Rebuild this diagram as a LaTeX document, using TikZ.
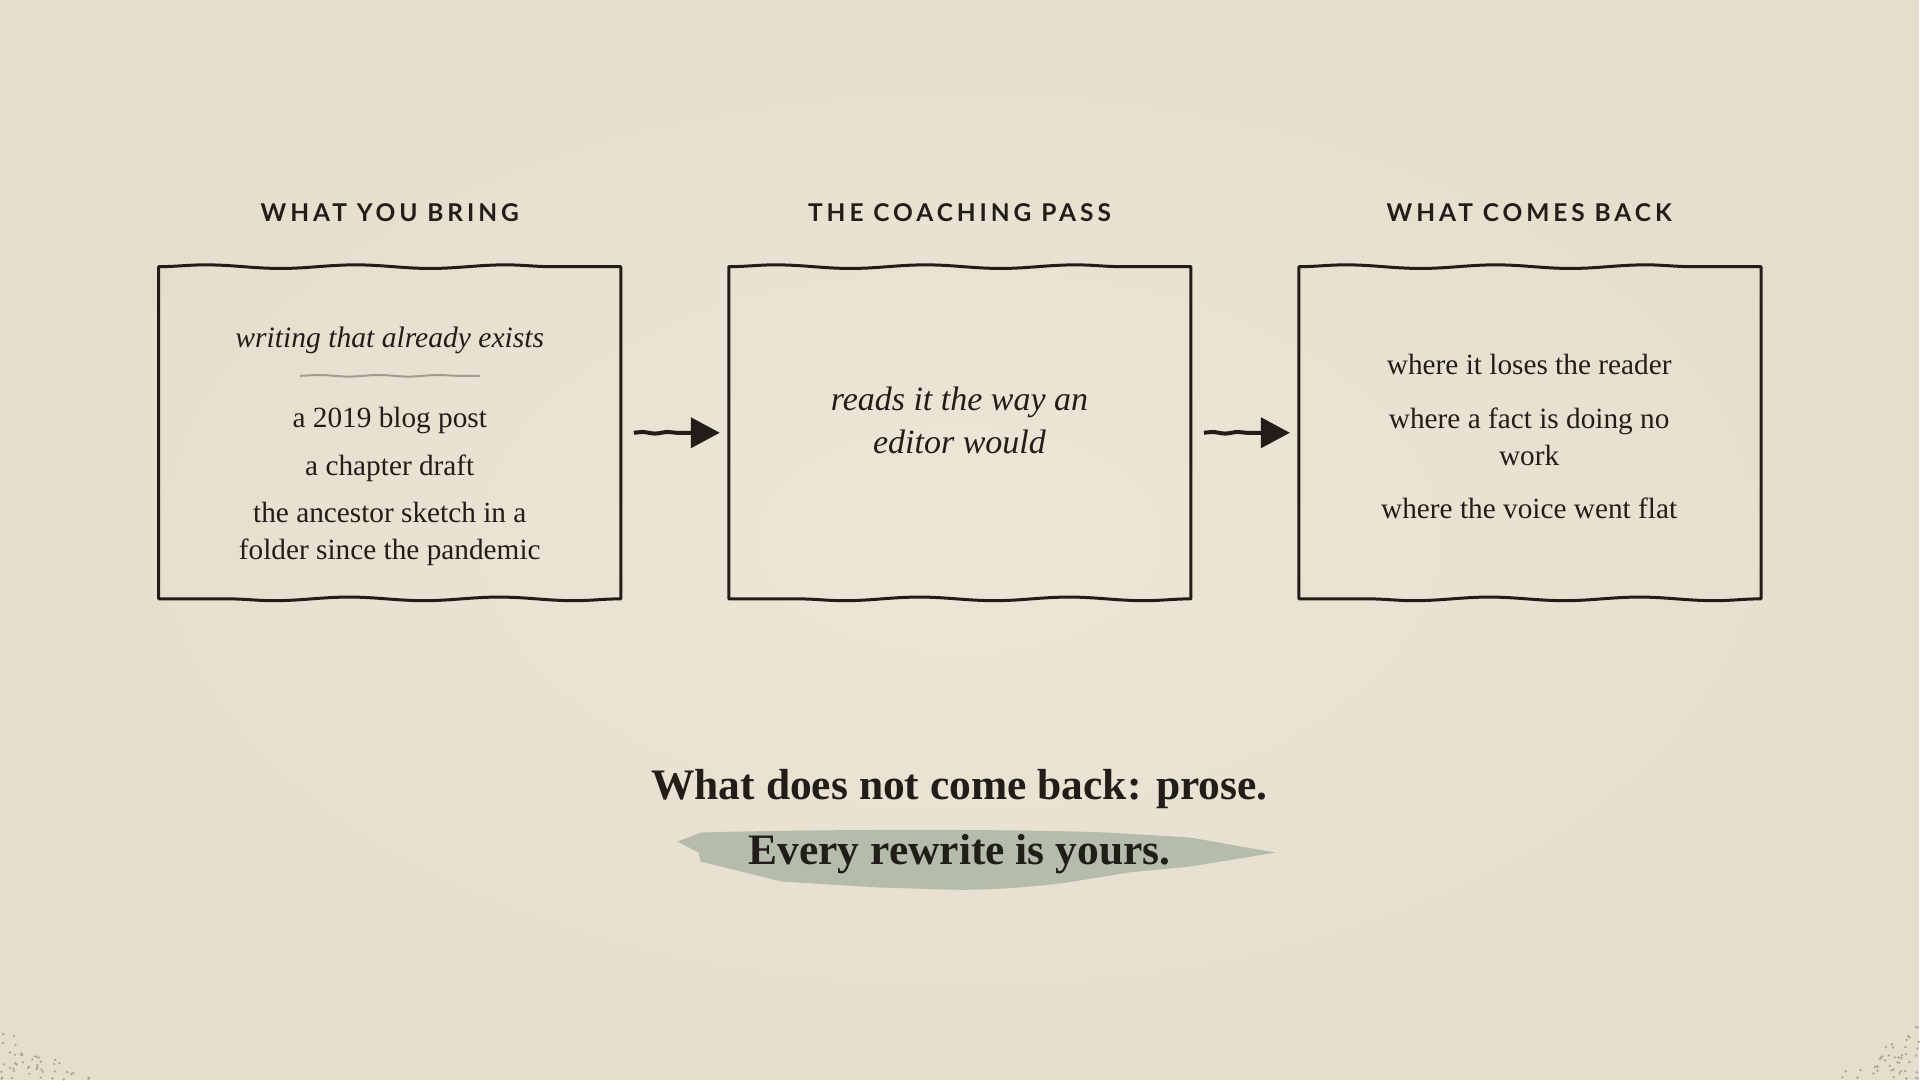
\documentclass[tikz,border=0pt]{standalone}
\usepackage{fontspec}
\setmainfont{Liberation Serif}
\newfontfamily\headfont[LetterSpace=16]{Lato}
\usetikzlibrary{arrows.meta, positioning, calc, decorations.pathmorphing}

\definecolor{ink}{RGB}{33,29,25}
\definecolor{paperin}{RGB}{237,229,214}
\definecolor{paperout}{RGB}{230,222,205}
\definecolor{sage}{RGB}{181,188,172}
\definecolor{rulegray}{RGB}{160,156,146}
\definecolor{speck}{RGB}{165,166,150}

\begin{document}
\begin{tikzpicture}[
  x=1pt, y=-1pt,
  card/.style={minimum width=462pt, minimum height=332pt, inner sep=0pt},
  edge/.style={draw=ink, line width=3pt, line join=round},
  wavy/.style={decoration={snake, amplitude=1.8pt, segment length=150pt}},
  head/.style={font=\headfont\bfseries\fontsize{24.5}{30}\selectfont, text=ink, anchor=base},
  body/.style={font=\fontsize{29.3}{37}\selectfont, text=ink, anchor=base},
  lead/.style={font=\itshape\fontsize{34}{43}\selectfont, text=ink, anchor=base},
  motto/.style={font=\bfseries\fontsize{43.5}{52}\selectfont, text=ink, anchor=base},
  arrow/.style={draw=ink, line width=4pt, -{Triangle[length=29pt, width=30pt]},
    decorate, decoration={snake, amplitude=0.8pt, segment length=26pt, post length=36pt}}
]

% Paper
\shade[inner color=paperin, outer color=paperout] (0,0) rectangle (1920,1080);
\pgfmathsetseed{42}
\foreach \i in {1,...,45}{
  \pgfmathsetmacro\su{rnd}
  \pgfmathsetmacro\sv{rnd}
  \pgfmathsetmacro\px{ifthenelse(\su+\sv>1,1-\su,\su)}
  \pgfmathsetmacro\py{ifthenelse(\su+\sv>1,1-\sv,\sv)}
  \fill[speck] (\px*95, 1080-\py*52) circle (1.3pt);
  \fill[speck] (1920-\py*88, 1080-\px*56) circle (1.3pt);
}

% Cards
\node[card] (bring) at (390,433) {};
\node[card, right=108pt of bring] (pass) {};
\node[card, right=108pt of pass] (back) {};

\foreach \b in {bring, pass, back}
  \draw[edge] (\b.north west) decorate[wavy]{-- (\b.north east)} -- (\b.south east)
    decorate[wavy]{-- (\b.south west)} -- cycle;

% Headings
\node[head] (hbring) at (390,222) {WHAT YOU BRING};
\node[head] (hpass) at (960,222) {THE COACHING PASS};
\node[head] (hback) at (1530,222) {WHAT COMES BACK};

% What you bring
\node[body, font=\itshape\fontsize{29.6}{37}\selectfont] (exists) at (390,348) {writing that already exists};
\draw[rulegray, line width=2pt] (300,376) decorate[decoration={snake, amplitude=0.8pt, segment length=60pt}]{-- (480,376)};
\node[body] (blog) at (390,428) {a 2019 blog post};
\node[body] (draft) at (390,476) {a chapter draft};
\node[body] (sketch) at (390,523) {the ancestor sketch in a};
\node[body] (folder) at (390,560) {folder since the pandemic};

% The coaching pass
\node[lead] (reads) at (960,411) {reads it the way an};
\node[lead] (editor) at (960,454) {editor would};

% What comes back
\node[body] (loses) at (1530,375) {where it loses the reader};
\node[body] (fact) at (1530,429) {where a fact is doing no};
\node[body] (work) at (1530,466) {work};
\node[body] (flat) at (1530,519) {where the voice went flat};

% Arrows
\draw[arrow] ([xshift=13pt]bring.east) -- ([xshift=-9pt]pass.west);
\draw[arrow] ([xshift=13pt]pass.east) -- ([xshift=-9pt]back.west);

% Closing lines
\fill[sage] (678,842) -- (701,833) .. controls (800,830) and (1000,829) .. (1109,833)
  -- (1191,838) -- (1276,853) -- (1191,867) -- (1129,873) -- (1068,883)
  .. controls (1020,889) and (980,891) .. (946,890) -- (880,888) -- (782,882)
  -- (701,862) -- (699,853) -- cycle;
\node[motto] (prose) at (960,800) {What does not come back: prose.};
\node[motto] (yours) at (960,865) {Every rewrite is yours.};

\end{tikzpicture}
\end{document}
